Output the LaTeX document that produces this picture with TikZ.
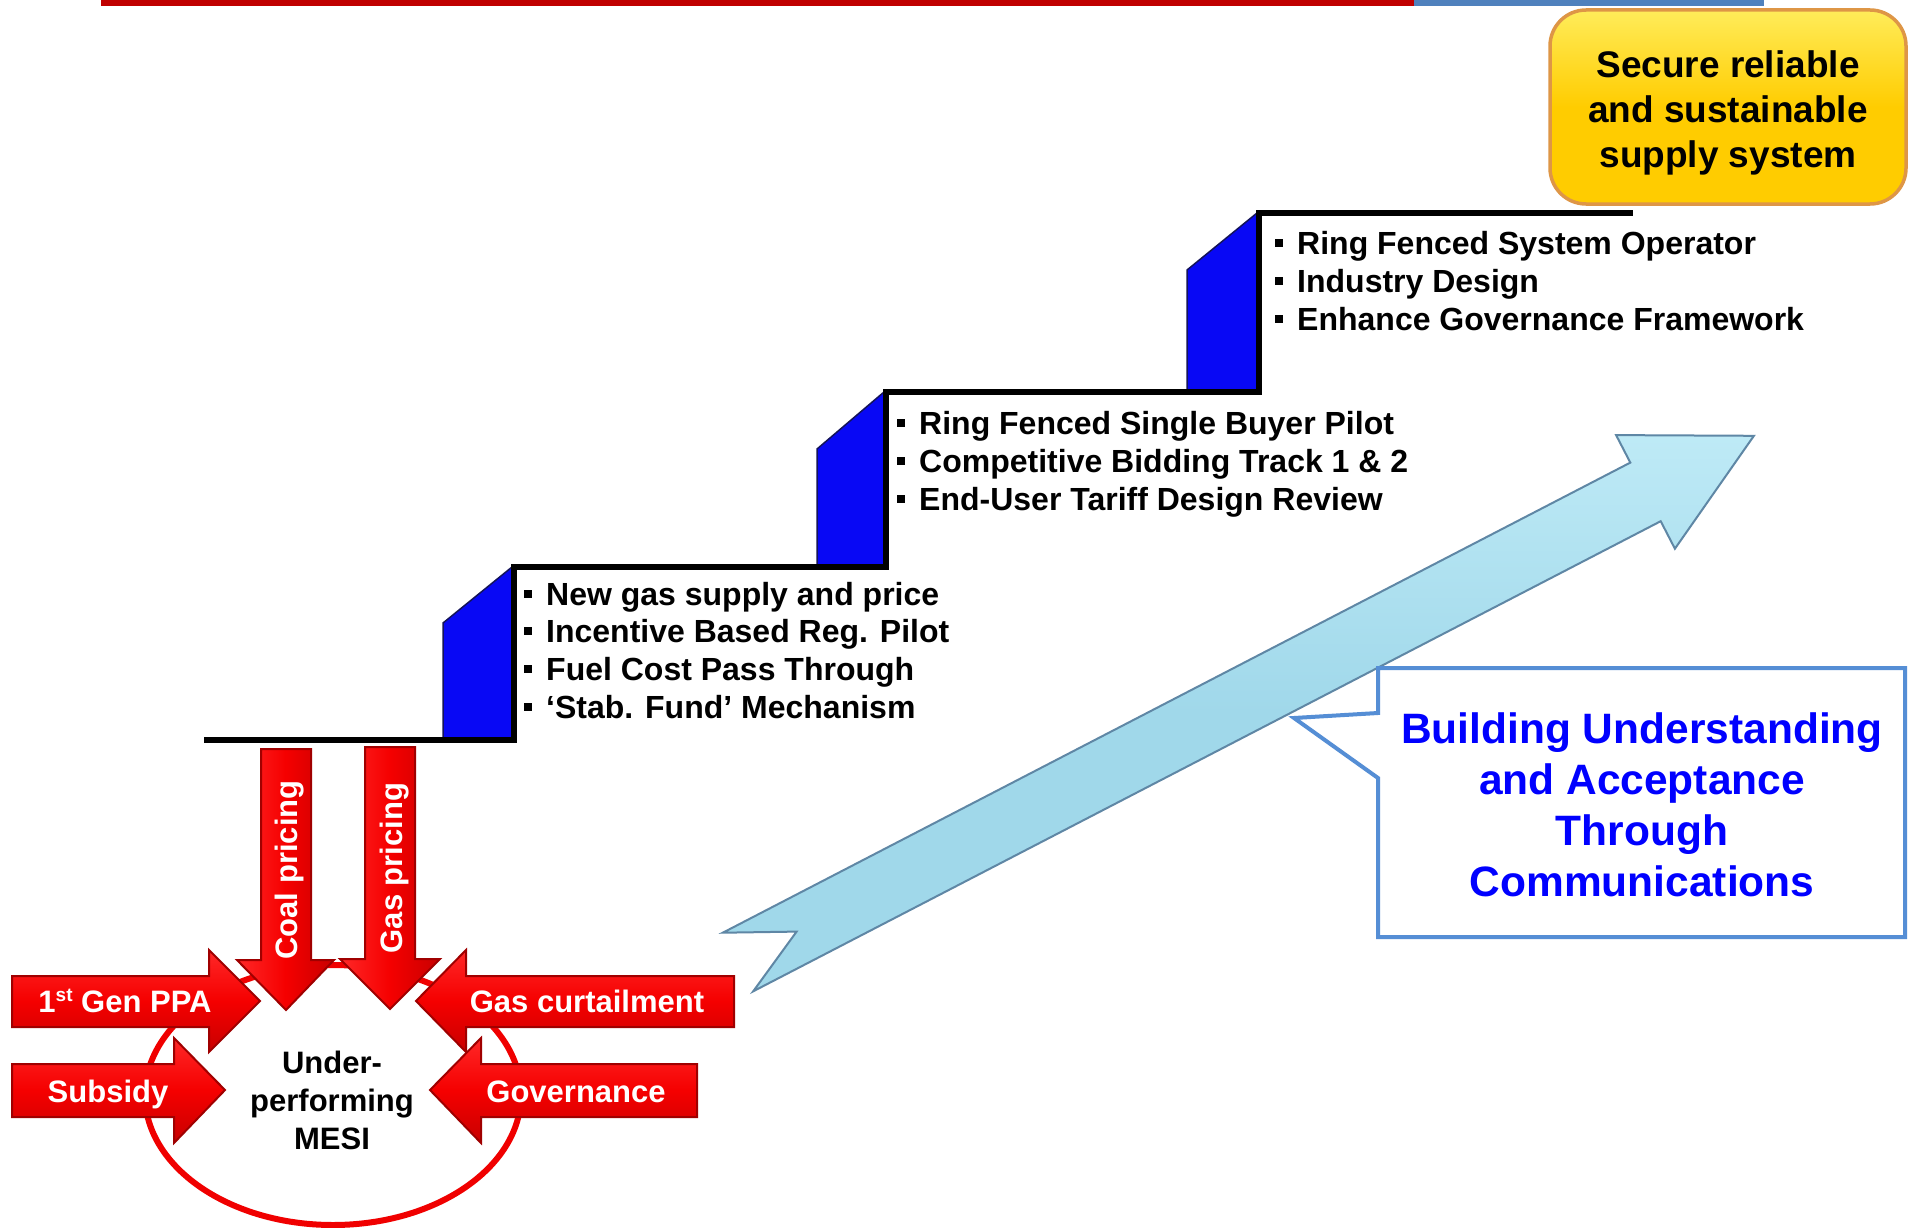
\documentclass[tikz,border=0pt]{standalone}
\usepackage{fontspec}
\setmainfont{Liberation Sans}
\definecolor{barred}{RGB}{192,0,0}
\definecolor{barblue}{RGB}{79,129,189}
\definecolor{gold}{RGB}{255,204,0}
\definecolor{goldlight}{RGB}{255,236,90}
\definecolor{goldedge}{RGB}{222,150,70}
\definecolor{stairblue}{RGB}{8,8,245}
\definecolor{stairedge}{RGB}{20,20,90}
\definecolor{arrred}{RGB}{245,0,0}
\definecolor{arrlight}{RGB}{255,40,40}
\definecolor{arrshade}{RGB}{200,0,0}
\definecolor{arrdark}{RGB}{160,0,0}
\definecolor{ringred}{RGB}{240,0,0}
\definecolor{skyfill}{RGB}{160,216,234}
\definecolor{skylight}{RGB}{190,234,246}
\definecolor{skyedge}{RGB}{95,135,165}
\definecolor{calloutedge}{RGB}{85,142,213}
\definecolor{calltext}{RGB}{0,0,255}
\newcommand{\sqbul}{\makebox[22pt][l]{\rule[7pt]{8pt}{8pt}}}
\newcommand{\supst}{\raisebox{11pt}{\fontsize{19}{19}\selectfont st}}
\begin{document}
\begin{tikzpicture}[x=1pt,y=-1pt,
  redarrowh/.style={top color=arrlight, bottom color=arrshade, middle color=arrred, draw=arrdark, line width=2pt, line join=miter},
  redarrowv/.style={left color=arrlight, right color=arrshade, middle color=arrred, draw=arrdark, line width=2pt, line join=miter},
  arrowlabel/.style={text=white, inner sep=0pt, font=\fontsize{31}{37}\selectfont\bfseries},
  itemline/.style={anchor=base west, inner sep=0pt, font=\fontsize{32}{38}\selectfont\bfseries},
  stairblock/.style={fill=stairblue, draw=stairedge, line width=1.5pt, line join=miter},
]
\useasboundingbox (0,0) rectangle (1911,1228);
\fill[white] (0,0) rectangle (1911,1228);

% top bars
\fill[barred] (101,0) rectangle (1414,6);
\fill[barblue] (1414,0) rectangle (1764,6);

% goal box
\path[draw=goldedge, top color=goldlight, bottom color=gold, middle color=gold, line width=3.5pt, rounded corners=36pt]
  (1550,10) rectangle (1906,204);
\node (goal) [align=center, inner sep=0pt,
  font=\fontsize{37}{45}\selectfont\bfseries] at (1728,113) {Secure reliable\\and sustainable\\supply system};

% stair blocks
\path[stairblock] (443,740) -- (443,623) -- (512,567) -- (512,740) -- cycle;
\path[stairblock] (817,567) -- (817,449) -- (884,392) -- (884,567) -- cycle;
\path[stairblock] (1187,392) -- (1187,270) -- (1257,213) -- (1257,392) -- cycle;

% stair line
\draw[line width=6pt, line join=miter] (204,740) -- (514,740) -- (514,567) -- (886,567)
  -- (886,392) -- (1259,392) -- (1259,213) -- (1633,213);

% item lists
\node[itemline] (s1a) at (524,605) {\sqbul New gas supply and price};
\node[itemline] (s1b) at (524,642) {\sqbul Incentive Based Reg. Pilot};
\node[itemline] (s1c) at (524,680) {\sqbul Fuel Cost Pass Through};
\node[itemline] (s1d) at (524,718) {\sqbul `Stab. Fund' Mechanism};

\node[itemline] (s2a) at (897,434) {\sqbul Ring Fenced Single Buyer Pilot};
\node[itemline] (s2b) at (897,472) {\sqbul Competitive Bidding Track 1 \& 2};
\node[itemline] (s2c) at (897,510) {\sqbul End-User Tariff Design Review};

\node[itemline] (s3a) at (1275,254) {\sqbul Ring Fenced System Operator};
\node[itemline] (s3b) at (1275,292) {\sqbul Industry Design};
\node[itemline] (s3c) at (1275,330) {\sqbul Enhance Governance Framework};

% ring
\draw[ringred, line width=6pt] (333,1095) ellipse [x radius=188pt, y radius=130pt];

% red arrows
\path[redarrowh] (12,976) -- (209,976) -- (209,950) -- (260,1001) -- (209,1052) -- (209,1027) -- (12,1027) -- cycle;
\path[redarrowh] (12,1064) -- (174,1064) -- (174,1038) -- (225,1090) -- (174,1143) -- (174,1117) -- (12,1117) -- cycle;
\path[redarrowh] (734,976) -- (466,976) -- (466,950) -- (416,1001) -- (466,1052) -- (466,1027) -- (734,1027) -- cycle;
\path[redarrowh] (697,1064) -- (481,1064) -- (481,1038) -- (430,1090) -- (481,1143) -- (481,1117) -- (697,1117) -- cycle;
\path[redarrowv] (261,749) -- (311,749) -- (311,960) -- (334,960) -- (286,1010) -- (237,960) -- (261,960) -- cycle;
\path[redarrowv] (365,747) -- (415,747) -- (415,959) -- (440,959) -- (390,1009) -- (340,959) -- (365,959) -- cycle;

\node[arrowlabel, anchor=base] (ppa) at (125,1012) {1\supst\ Gen PPA};
\node[arrowlabel, anchor=base] (subsidy) at (108,1102) {Subsidy};
\node[arrowlabel, anchor=base] (curtail) at (587,1012) {Gas curtailment};
\node[arrowlabel, anchor=base] (gov) at (576,1102) {Governance};
\node[arrowlabel, anchor=base, rotate=90] (coal) at (297,870) {Coal pricing};
\node[arrowlabel, anchor=base, rotate=90] (gasp) at (402,868) {Gas pricing};

\node (mesi) [align=center, inner sep=0pt, font=\fontsize{31}{38}\selectfont\bfseries] at (332,1100) {Under-\\performing\\MESI};

% big light-blue arrow
\path[top color=skylight, bottom color=skyfill, middle color=skyfill, draw=skyedge, line width=2pt, line join=miter]
  (722.8,932.7) -- (1630.3,462.6) -- (1616.1,435.1) -- (1753.9,435.8) -- (1674.9,548.7)
  -- (1660.7,521.2) -- (753.2,991.3) -- (796.6,931.6) -- cycle;

% callout
\draw[calloutedge, fill=white, line width=4pt, line join=miter]
  (1378,668) -- (1905,668) -- (1905,937) -- (1378,937) -- (1378,778) -- (1294,718) -- (1378,713) -- cycle;
\node (comm) [text=calltext, align=center, inner sep=0pt,
  font=\fontsize{42.5}{51}\selectfont\bfseries] at (1642,805) {Building Understanding\\and Acceptance\\Through\\Communications};
\end{tikzpicture}
\end{document}
